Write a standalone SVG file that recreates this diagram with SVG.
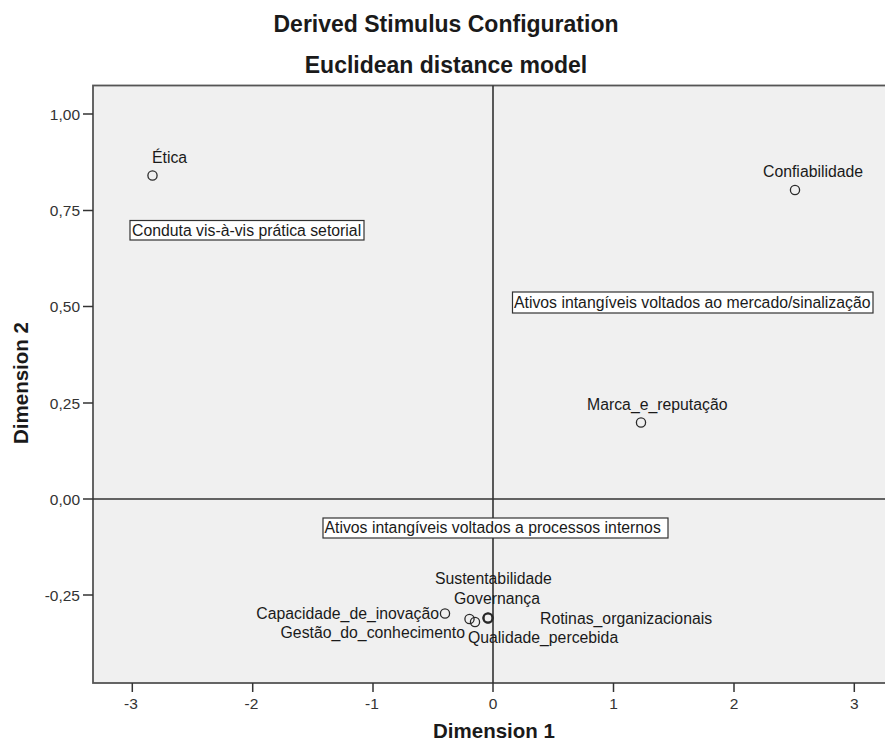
<svg xmlns="http://www.w3.org/2000/svg" width="885" height="745" viewBox="0 0 885 745">
<style>
  text { font-family: "Liberation Sans", Arial, sans-serif; fill: #1a1a1a; }
  .title { font-size: 23px; font-weight: bold; text-anchor: middle; }
  .axtitle { font-size: 20.5px; font-weight: bold; text-anchor: middle; }
  .tick { font-size: 15.5px; fill: #333; }
  .ytick { text-anchor: end; }
  .xtick { text-anchor: middle; }
  .lbl { font-size: 15.8px; }
  .pt { fill: none; stroke: #2a2a2a; stroke-width: 1.3; }
  .box { fill: #ffffff; stroke: #333; stroke-width: 1.2; }
  .frame { fill: #f0f0f0; stroke: #555; stroke-width: 1.8; }
  .ref { stroke: #333; stroke-width: 1.6; fill: none; }
  .tk { stroke: #333; stroke-width: 1.5; }
</style>
<rect width="885" height="745" fill="#ffffff"/>
<text class="title" x="446" y="32">Derived Stimulus Configuration</text>
<text class="title" x="446" y="73">Euclidean distance model</text>

<rect class="frame" x="93" y="85.5" width="805" height="597.5"/>

<g id="axes">
  <line class="ref" x1="493" y1="85.5" x2="493" y2="683"/>
  <line class="ref" x1="93" y1="499" x2="898" y2="499"/>
  <g class="tk">
    <line x1="83" y1="114" x2="93" y2="114"/>
    <line x1="83" y1="210.5" x2="93" y2="210.5"/>
    <line x1="83" y1="306.5" x2="93" y2="306.5"/>
    <line x1="83" y1="403" x2="93" y2="403"/>
    <line x1="83" y1="499" x2="93" y2="499"/>
    <line x1="83" y1="595" x2="93" y2="595"/>
    <line x1="132.3" y1="683" x2="132.3" y2="692"/>
    <line x1="252.7" y1="683" x2="252.7" y2="692"/>
    <line x1="373" y1="683" x2="373" y2="692"/>
    <line x1="493" y1="683" x2="493" y2="692"/>
    <line x1="613.5" y1="683" x2="613.5" y2="692"/>
    <line x1="734" y1="683" x2="734" y2="692"/>
    <line x1="854.3" y1="683" x2="854.3" y2="692"/>
  </g>
  <text class="tick ytick" x="80" y="119.5">1,00</text>
  <text class="tick ytick" x="80" y="216">0,75</text>
  <text class="tick ytick" x="80" y="312">0,50</text>
  <text class="tick ytick" x="80" y="408.5">0,25</text>
  <text class="tick ytick" x="80" y="504.5">0,00</text>
  <text class="tick ytick" x="80" y="600.5">-0,25</text>
  <text class="tick xtick" x="131" y="709">-3</text>
  <text class="tick xtick" x="251.5" y="709">-2</text>
  <text class="tick xtick" x="372" y="709">-1</text>
  <text class="tick xtick" x="493" y="709">0</text>
  <text class="tick xtick" x="613.5" y="709">1</text>
  <text class="tick xtick" x="734" y="709">2</text>
  <text class="tick xtick" x="854.3" y="709">3</text>
  <text class="axtitle" x="494" y="738">Dimension 1</text>
  <text class="axtitle" transform="translate(28,383) rotate(-90)" x="0" y="0">Dimension 2</text>
</g>

<g id="etica">
  <circle class="pt" cx="152.5" cy="175.5" r="4.6"/>
  <text class="lbl" x="152" y="163">Ética</text>
</g>
<g id="confiabilidade">
  <circle class="pt" cx="795" cy="190" r="4.6"/>
  <text class="lbl" x="763" y="177">Confiabilidade</text>
</g>
<g id="marca">
  <circle class="pt" cx="641" cy="422.5" r="4.6"/>
  <text class="lbl" x="587" y="410">Marca_e_reputação</text>
</g>
<g id="capacidade">
  <circle class="pt" cx="445" cy="613.5" r="4.6"/>
  <text class="lbl" x="439" y="618.5" text-anchor="end">Capacidade_de_inovação</text>
</g>
<g id="gestao">
  <circle class="pt" cx="469.5" cy="619" r="4.6"/>
  <circle class="pt" cx="475" cy="622" r="4.6"/>
  <text class="lbl" x="465" y="637.5" text-anchor="end">Gestão_do_conhecimento</text>
</g>
<g id="sustentabilidade">
  <circle class="pt" cx="487.5" cy="618" r="4.6"/>
  <text class="lbl" x="435" y="584">Sustentabilidade</text>
</g>
<g id="governanca">
  <circle class="pt" cx="488.5" cy="618" r="4.6"/>
  <text class="lbl" x="454" y="604">Governança</text>
</g>
<g id="rotinas">
  <circle class="pt" cx="488" cy="617.5" r="4.6"/>
  <text class="lbl" x="540" y="624">Rotinas_organizacionais</text>
</g>
<g id="qualidade">
  <circle class="pt" cx="488" cy="618.5" r="4.6"/>
  <text class="lbl" x="468" y="643">Qualidade_percebida</text>
</g>

<g id="box-conduta">
  <rect class="box" x="130" y="220.5" width="234" height="19.5"/>
  <text class="lbl" x="132" y="235.5">Conduta vis-à-vis prática setorial</text>
</g>
<g id="box-mercado">
  <rect class="box" x="512.5" y="292" width="360.5" height="21"/>
  <text class="lbl" x="514" y="308">Ativos intangíveis voltados ao mercado/sinalização</text>
</g>
<g id="box-processos">
  <rect class="box" x="323" y="518" width="345" height="20"/>
  <text class="lbl" x="324.5" y="533">Ativos intangíveis voltados a processos internos</text>
</g>
<g id="connectors"></g>
</svg>
